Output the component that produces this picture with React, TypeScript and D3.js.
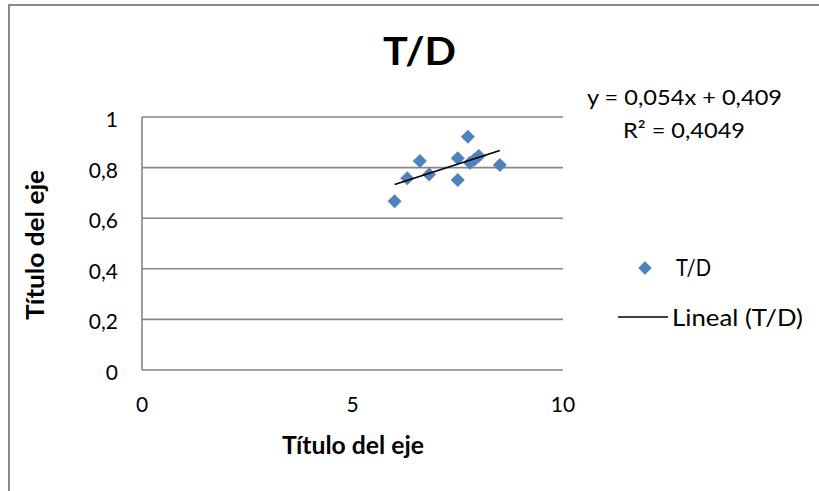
import React from 'react';
import * as d3 from 'd3';

const xValues = [6.0, 6.3, 6.6, 6.82, 7.5, 7.5, 7.74, 7.79, 7.9, 8.0, 8.5];
const yValues = [0.667, 0.758, 0.826, 0.773, 0.837, 0.751, 0.922, 0.819, 0.832, 0.846, 0.81];
const xTicks = [0, 5, 10];
const yTicks = [0, 0.2, 0.4, 0.6, 0.8, 1];
const trendSlope = 0.054;
const trendIntercept = 0.409;
const chartTitle = 'T/D';
const axisTitle = 'Título del eje';
const equationLines = ['y = 0,054x + 0,409', 'R² = 0,4049'];
const legendLabels = ['T/D', 'Lineal (T/D)'];

const W = 819;
const H = 491;
const FONT = 'Lato, "Noto Sans", sans-serif';
const BLUE = '#4F81BD';
const GRID = '#868686';

export default function App() {
  const x = d3.scaleLinear().domain([0, 10]).range([142, 563]);
  const y = d3.scaleLinear().domain([0, 1]).range([370, 117]);
  const loc = d3.formatLocale({ decimal: ',', thousands: '.', grouping: [3], currency: ['', ''] });
  const fmt = loc.format('.1~f');

  const xMin = d3.min(xValues) as number;
  const xMax = d3.max(xValues) as number;
  const trend = d3.line<number>().x((d) => x(d)).y((d) => y(trendSlope * d + trendIntercept));
  const diamond = d3.symbol().type(d3.symbolDiamond2).size(115)();

  return (
    <svg width={W} height={H} style={{ position: 'absolute', left: 0, top: 0, display: 'block', background: '#fff' }}>
      <rect x={9} y={5} width={W + 20} height={H + 20} fill="#fff" stroke="#8a8a8a" strokeWidth={2} />
      <text x={419.5} y={65} textAnchor="middle" fontFamily={FONT} fontWeight={700} fontSize={39} textLength={73} lengthAdjust="spacingAndGlyphs" fill="#000">
        {chartTitle}
      </text>
      {yTicks.map((t) => (
        <line key={'g' + t} x1={x(0)} x2={x(10)} y1={y(t)} y2={y(t)} stroke={GRID} strokeWidth={1.6} />
      ))}
      <line x1={x(0)} x2={x(0)} y1={y(0)} y2={y(1)} stroke={GRID} strokeWidth={1.6} />
      {yTicks.map((t) => (
        <text key={'yl' + t} x={118} y={y(t) + 10} textAnchor="end" fontFamily={FONT} fontSize={21} fill="#000">
          {fmt(t)}
        </text>
      ))}
      {xTicks.map((t) => (
        <text key={'xl' + t} x={x(t)} y={412} textAnchor="middle" fontFamily={FONT} fontSize={21} fill="#000">
          {fmt(t)}
        </text>
      ))}
      <text x={353} y={454} textAnchor="middle" fontFamily={FONT} fontWeight={700} fontSize={24} textLength={142} lengthAdjust="spacingAndGlyphs" fill="#000">
        {axisTitle}
      </text>
      <text
        transform={`translate(44,245) rotate(-90)`}
        x={0}
        y={0}
        textAnchor="middle"
        fontFamily={FONT}
        fontWeight={700}
        fontSize={24}
        textLength={150}
        lengthAdjust="spacingAndGlyphs"
        fill="#000"
      >
        {axisTitle}
      </text>
      {xValues.map((v, i) => (
        <path key={'p' + i} d={diamond as string} transform={`translate(${x(v)},${y(yValues[i])})`} fill={BLUE} stroke="#4A7EBB" strokeWidth={0.5} />
      ))}
      <path d={trend([xMin, xMax]) as string} fill="none" stroke="#000" strokeWidth={1.6} />
      <text x={684.5} y={105} textAnchor="middle" fontFamily={FONT} fontSize={22} textLength={195} lengthAdjust="spacingAndGlyphs" fill="#000">
        {equationLines[0]}
      </text>
      <text x={684} y={138} textAnchor="middle" fontFamily={FONT} fontSize={22} textLength={122} lengthAdjust="spacingAndGlyphs" fill="#000">
        {equationLines[1]}
      </text>
      <path d={diamond as string} transform={`translate(645,268)`} fill={BLUE} />
      <text x={676} y={276} fontFamily={FONT} fontSize={23} textLength={35} lengthAdjust="spacingAndGlyphs" fill="#000">
        {legendLabels[0]}
      </text>
      <line x1={618} x2={668} y1={317} y2={317} stroke="#000" strokeWidth={1.4} />
      <text x={672} y={326} fontFamily={FONT} fontSize={23} textLength={131} lengthAdjust="spacingAndGlyphs" fill="#000">
        {legendLabels[1]}
      </text>
    </svg>
  );
}
